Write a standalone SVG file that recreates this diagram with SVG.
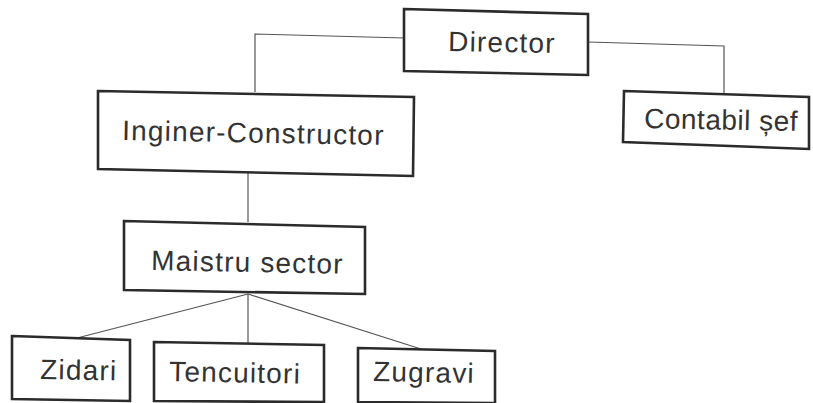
<svg xmlns="http://www.w3.org/2000/svg" width="813" height="403" viewBox="0 0 813 403">
  <style>
    .box { fill: #ffffff; stroke: #2b2b2b; stroke-width: 2.6; stroke-linejoin: miter; }
    .lbl { font-family: "Liberation Sans", Arial, sans-serif; font-size: 28px; letter-spacing: 1.2px; fill: #333333; }
    .conn { fill: none; stroke: #555555; stroke-width: 1.2; }
  </style>
  <rect width="813" height="403" fill="#ffffff"/>
  <g id="connectors">
    <polyline class="conn" points="404,38 255,34 255,92"/>
    <polyline class="conn" points="588,42 724,46 724,93"/>
    <line class="conn" x1="248" y1="172" x2="248" y2="222"/>
    <line class="conn" x1="248" y1="294" x2="77" y2="338"/>
    <line class="conn" x1="248" y1="294" x2="248" y2="343"/>
    <line class="conn" x1="248" y1="294" x2="421" y2="349"/>
  </g>
  <g id="director">
    <polygon class="box" points="404,9 588,14 588,75 404,71"/>
    <text class="lbl" x="448" y="51" transform="rotate(1.1 448 51)">Director</text>
  </g>
  <g id="contabil">
    <polygon class="box" points="624,91 809,97 809,149 623,142"/>
    <text class="lbl" x="644" y="128" style="letter-spacing:0.5px" transform="rotate(1.1 644 128)">Contabil șef</text>
  </g>
  <g id="inginer">
    <polygon class="box" points="98,91 414,97 413,176 98,169"/>
    <text class="lbl" x="122" y="140" transform="rotate(1.1 122 140)">Inginer-Constructor</text>
  </g>
  <g id="maistru">
    <polygon class="box" points="124,221 365,227 365,294 124,290"/>
    <text class="lbl" x="151" y="270" transform="rotate(1.1 151 270)">Maistru sector</text>
  </g>
  <g id="zidari">
    <polygon class="box" points="12,336 130,340 130,401 12,399"/>
    <text class="lbl" x="40" y="379" transform="rotate(1.1 40 379)">Zidari</text>
  </g>
  <g id="tencuitori">
    <polygon class="box" points="154,342 324,345 324,402 154,401"/>
    <text class="lbl" x="169" y="381" transform="rotate(1.1 169 381)">Tencuitori</text>
  </g>
  <g id="zugravi">
    <polygon class="box" points="358,348 495,351 495,403 358,402"/>
    <text class="lbl" x="373" y="381" transform="rotate(1.1 373 381)">Zugravi</text>
  </g>
</svg>
